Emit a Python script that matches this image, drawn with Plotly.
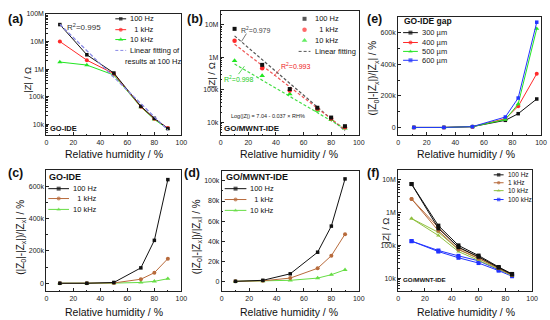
import plotly.graph_objects as go

W, H = 550, 320
FONT = "Liberation Sans, Arial, sans-serif"

# ---------------- data ----------------
RH = [10, 30, 50, 70, 80, 90]
a_100 = [4.1e7, 3.3e6, 7.2e5, 4.5e4, 1.65e4, 7.0e3]
a_1k = [1.0e7, 2.1e6, 6.8e5, 4.3e4, 1.6e4, 7.3e3]
a_10k = [1.8e6, 1.4e6, 6.1e5, 4.2e4, 1.5e4, 6.8e3]
a_fit_x = [10, 90]
a_fit = [4.2e7, 6.2e3]

b_100 = [7.4e6, 5.8e5, 1.05e5, 2.8e4, 1.4e4, 7.6e3]
b_1k = [3.2e6, 4.6e5, 9.4e4, 2.6e4, 1.3e4, 7.0e3]
b_10k = [7.8e5, 2.7e5, 7.4e4, 2.3e4, 1.2e4, 6.6e3]
b_fit_x = [10, 90]
b_fit_100 = [4.5e6, 5.5e3]
b_fit_1k = [2.5e6, 6.0e3]
b_fit_10k = [6.2e5, 6.3e3]

c_100 = [0, 0, 5e3, 9.5e4, 2.65e5, 6.4e5]
c_1k = [0, 0, 2e3, 2.5e4, 6.5e4, 1.52e5]
c_10k = [0, 0, 1e3, 5e3, 1.2e4, 2.8e4]

d_100 = [0, 1.0e3, 7.5e3, 2.9e4, 5.5e4, 1.02e5]
d_1k = [0, 5e2, 3.2e3, 1.3e4, 2.55e4, 4.7e4]
d_10k = [0, 2e2, 1.0e3, 3.2e3, 6.6e3, 1.15e4]

RH_e = [11, 32, 52, 75, 84, 97]
e_300 = [0, 0, 5e3, 4.5e4, 8.7e4, 1.8e5]
e_400 = [0, 0, 5e3, 5.5e4, 1.34e5, 3.4e5]
e_500 = [0, 0, 5e3, 5.0e4, 1.48e5, 6.25e5]
e_600 = [0, 0, 5e3, 6.6e4, 1.86e5, 6.66e5]

RH_f = [10, 30, 45, 60, 75, 85]
f_100a = [7.4e6, 4.0e5, 1.0e5, 4.9e4, 2.2e4, 1.35e4]
f_100b = [7.4e6, 3.3e5, 8.8e4, 4.5e4, 2.1e4, 1.3e4]
f_1ka = [2.6e6, 3.5e5, 8.5e4, 4.4e4, 2.1e4, 1.3e4]
f_1kb = [2.6e6, 2.8e5, 7.5e4, 4.0e4, 2.0e4, 1.25e4]
f_10ka = [6.6e5, 2.5e5, 7.5e4, 4.0e4, 2.0e4, 1.25e4]
f_10kb = [6.6e5, 2.0e5, 6.5e4, 3.6e4, 1.9e4, 1.2e4]
f_100ka = [1.35e5, 7.0e4, 4.8e4, 3.4e4, 1.8e4, 1.3e4]
f_100kb = [1.35e5, 6.5e4, 4.2e4, 2.9e4, 1.7e4, 1.15e4]

# ---------------- styles ----------------
BLACK = "#111111"
RED = "#ff2a2a"
GREEN = "#22e622"
LAV = "#8a8ae6"
BROWN = "#b86b3c"
LGREEN = "#66dd44"
YGREEN = "#90c040"
BLUE = "#2233ff"
AX = "#222222"

fig = go.Figure()


def px_x(x):
    return x / W


def px_y(y):
    return 1 - y / H


# panel boxes in pixels: (left, right, top, bottom)
boxes = {
    1: (45, 182, 10, 133),   # a
    2: (222, 362, 7, 133),   # b
    3: (402, 547, 13, 133),  # e
    4: (45, 182, 168, 291),  # c
    5: (223, 362, 169, 291),  # d
    6: (402, 538, 168, 291),  # f
}

layout_axes = {}


def make_axes(i, yrange, ylog=False, ydtick=None, ymin_dtick=None):
    l, r, t, b = boxes[i]
    xs = "xaxis" if i == 1 else f"xaxis{i}"
    ys = "yaxis" if i == 1 else f"yaxis{i}"
    xa = "x" if i == 1 else f"x{i}"
    ya = "y" if i == 1 else f"y{i}"
    layout_axes[xs] = dict(
        domain=[px_x(l), px_x(r)], anchor=ya, range=[0, 100], dtick=20, tick0=0,
        showline=True, linecolor=AX, linewidth=1, mirror=True,
        ticks="inside", ticklen=3, tickwidth=1, tickcolor=AX,
        tickfont=dict(size=7, color=AX, family=FONT), showgrid=False, zeroline=False,
        minor=dict(ticks="inside", ticklen=1.5, dtick=10, tickcolor=AX),
    )
    yd = dict(
        domain=[px_y(b), px_y(t)], anchor=xa, range=yrange,
        showline=True, linecolor=AX, linewidth=1, mirror=True,
        ticks="inside", ticklen=3, tickwidth=1, tickcolor=AX,
        tickfont=dict(size=7, color=AX, family=FONT), showgrid=False, zeroline=False,
        tickformat="~s",
    )
    if ylog:
        yd.update(type="log", dtick=1,
                  minor=dict(ticks="inside", ticklen=1.5, tickcolor=AX))
    else:
        yd.update(dtick=ydtick, tick0=0,
                  minor=dict(ticks="inside", ticklen=1.5, dtick=ymin_dtick, tickcolor=AX))
    layout_axes[ys] = yd
    return xa, ya


def line(xa, ya, x, y, color, symbol, size=4, width=1, mode="lines+markers", dash="solid"):
    fig.add_trace(go.Scatter(
        x=x, y=y, xaxis=xa, yaxis=ya, mode=mode, showlegend=False,
        line=dict(color=color, width=width, dash=dash),
        marker=dict(color=color, symbol=symbol, size=size, line=dict(width=0)),
        cliponaxis=False,
    ))


# (a)
xa, ya = make_axes(1, [3.6, 8.0], ylog=True)
line(xa, ya, RH, a_10k, GREEN, "triangle-up", 4.5)
line(xa, ya, RH, a_1k, RED, "circle", 4)
line(xa, ya, RH, a_100, BLACK, "square", 3.5)
line(xa, ya, a_fit_x, a_fit, LAV, "circle", mode="lines", dash="4px,2px", width=1.3)

# (b)
xa, ya = make_axes(2, [3.6, 7.42], ylog=True)
line(xa, ya, b_fit_x, b_fit_100, "#555555", "circle", mode="lines", dash="3px,2px", width=1.2)
line(xa, ya, b_fit_x, b_fit_1k, "#ee5555", "circle", mode="lines", dash="3px,2px", width=1.2)
line(xa, ya, b_fit_x, b_fit_10k, "#44dd44", "circle", mode="lines", dash="3px,2px", width=1.2)
line(xa, ya, RH, b_10k, GREEN, "triangle-up", 5, mode="markers")
line(xa, ya, RH, b_1k, RED, "circle", 4.5, mode="markers")
line(xa, ya, RH, b_100, BLACK, "square", 4, mode="markers")

# (e)
xa, ya = make_axes(3, [-50000, 700000], ydtick=200000, ymin_dtick=100000)
line(xa, ya, RH_e, e_300, BLACK, "square", 3.5)
line(xa, ya, RH_e, e_400, RED, "circle", 4)
line(xa, ya, RH_e, e_500, GREEN, "triangle-up", 4.5)
line(xa, ya, RH_e, e_600, BLUE, "square", 3.5)

# (c)
xa, ya = make_axes(4, [-50000, 700000], ydtick=200000, ymin_dtick=100000)
line(xa, ya, RH, c_10k, LGREEN, "triangle-up", 4.5)
line(xa, ya, RH, c_1k, BROWN, "circle", 4)
line(xa, ya, RH, c_100, BLACK, "square", 3.5)

# (d)
xa, ya = make_axes(5, [-10000, 110000], ydtick=20000, ymin_dtick=10000)
line(xa, ya, RH, d_10k, LGREEN, "triangle-up", 4.5)
line(xa, ya, RH, d_1k, BROWN, "circle", 4)
line(xa, ya, RH, d_100, BLACK, "square", 3.5)

# (f)
xa, ya = make_axes(6, [3.6, 7.3], ylog=True)
for ser, col, sym in [(f_100ka, BLUE, "square"), (f_100kb, BLUE, "square"),
                      (f_10ka, YGREEN, "triangle-up"), (f_10kb, YGREEN, "triangle-up"),
                      (f_1ka, BROWN, "circle"), (f_1kb, BROWN, "circle"),
                      (f_100a, BLACK, "square"), (f_100b, BLACK, "square")]:
    line(xa, ya, RH_f, ser, col, sym, 4)

# ---------------- decorations (legends, labels) ----------------
shapes = []
annots = []
kx, ky, kc, ks, kz = [], [], [], [], []


def key(x0, x1, y, color, symbol=None, dash="solid", size=4, draw_line=True):
    if draw_line:
        shapes.append(dict(type="line", xref="paper", yref="paper",
                           x0=px_x(x0), x1=px_x(x1), y0=px_y(y), y1=px_y(y),
                           line=dict(color=color, width=1, dash=dash)))
    if symbol:
        kx.append((x0 + x1) / 2)
        ky.append(y)
        kc.append(color)
        ks.append(symbol)
        kz.append(size)


def text(x, y, s, size, color=BLACK, bold=False, xanchor="left", angle=0):
    if bold:
        s = f"<b>{s}</b>"
    annots.append(dict(x=px_x(x), y=px_y(y), xref="paper", yref="paper", text=s,
                       showarrow=False, xanchor=xanchor, yanchor="middle",
                       textangle=angle, font=dict(size=size, color=color, family=FONT)))


def seg(x0, y0, x1, y1, color, width=0.8):
    shapes.append(dict(type="line", xref="paper", yref="paper",
                       x0=px_x(x0), x1=px_x(x1), y0=px_y(y0), y1=px_y(y1),
                       line=dict(color=color, width=width)))


# panel letters
for lab, x, y in [("(a)", 4, 15), ("(b)", 186, 15), ("(e)", 368, 15),
                  ("(c)", 4, 171), ("(d)", 183, 171), ("(f)", 368, 171)]:
    text(x, y, lab, 12.5, bold=True)

# axis titles
ZT = "|Z| / Ω"
DT = "(|Z<sub>0</sub>|-|Z<sub>x</sub>|)/|Z<sub>x</sub>| / %"
XT = "Relative humidity / %"
text(25, 77, ZT, 9.5, xanchor="center", angle=-90)
text(212, 72, ZT, 9.5, xanchor="center", angle=-90)
text(377, 75, DT, 10, xanchor="center", angle=-90)
text(19, 236, DT, 10, xanchor="center", angle=-90)
text(198, 236, DT, 10, xanchor="center", angle=-90)
text(389, 229, ZT, 9.5, xanchor="center", angle=-90)
for cx, cy in [(114, 152), (291, 152), (471, 152), (114, 312), (291, 312), (471, 312)]:
    text(cx, cy, XT, 10.5, xanchor="center")

# (a) legend and labels
key(115, 126, 15, BLACK, "square", size=3.5)
text(128, 15, "100 Hz", 7.5)
key(115, 126, 26, RED, "circle", size=4)
text(128, 26, "  1 kHz", 7.5)
key(115, 126, 36, GREEN, "triangle-up", size=4.5)
text(128, 36, "10 kHz", 7.5)
key(115, 126, 47, LAV, dash="3px,2px")
text(128, 47, "Linear fitting of", 7.5)
text(123, 58, "results at 100 Hz", 7.5)
text(64, 23, "R<sup>2</sup>=0.995", 8, color="#333333")
text(47, 126, "GO-IDE", 7.5, bold=True)

# (b) legend and labels
key(303, 311, 15, BLACK, "square", size=4, draw_line=False)
text(316, 15, "100 Hz", 7.5)
key(303, 311, 26, RED, "circle", size=4.5, draw_line=False)
text(316, 26, "  1 kHz", 7.5)
key(303, 311, 37, GREEN, "triangle-up", size=5, draw_line=False)
text(316, 37, "10 kHz", 7.5)
key(301, 313, 48, "#555555", dash="3px,2px")
text(316, 48, "Linear fitting", 7.5)
text(241, 26, "R<sup>2</sup>=0.979", 7, color="#444444")
seg(248, 30, 243, 38, "#555555")
text(281, 63, "R<sup>2</sup>=0.993", 7, color="#ee2222")
seg(282, 66, 276, 73, "#ee4444")
text(223, 76, "R<sup>2</sup>=0.998", 7, color="#22cc22")
seg(240, 71, 246, 63, "#33cc33")
text(230, 113, "Log(|Z|) = 7.04 - 0.037 × RH%", 5.5, color="#222222")
text(223, 126, "GO/MWNT-IDE", 8, bold=True)

# (e) legend
text(406, 17, "GO-IDE gap", 8.5, bold=True)
for y, col, sym, lab in [(29, BLACK, "square", "300 µm"), (39, RED, "circle", "400 µm"),
                         (48, GREEN, "triangle-up", "500 µm"), (57, BLUE, "square", "600 µm")]:
    key(407, 422, y, col, sym, size=4)
    text(424, y, lab, 7.5, color="#222222")

# (c) legend
text(46, 175, "GO-IDE", 9, bold=True)
for y, col, sym, lab in [(187, BLACK, "square", "100 Hz"), (197, BROWN, "circle", "  1 kHz"),
                         (208, LGREEN, "triangle-up", "10 kHz")]:
    key(47, 68, y, col, sym, size=4)
    text(70, y, lab, 7.5)

# (d) legend
text(225, 175, "GO/MWNT-IDE", 9, bold=True)
for y, col, sym, lab in [(187, BLACK, "square", "100 Hz"), (198, BROWN, "circle", "  1 kHz"),
                         (209, LGREEN, "triangle-up", "10 kHz")]:
    key(226, 248, y, col, sym, size=4)
    text(250, y, lab, 7.5)

# (f) legend
for y, col, sym, lab in [(173, BLACK, "square", "100 Hz"), (181, BROWN, "circle", "1 kHz"),
                         (189, YGREEN, "triangle-up", "10 kHz"), (198, BLUE, "square", "100 kHz")]:
    key(499, 509, y, col, sym, size=3.5)
    text(511, y, lab, 6.5)
text(405, 279, "GO/MWNT-IDE", 6.2, bold=True)

# legend key markers on an invisible full-page overlay axis (pixel coordinates)
fig.add_trace(go.Scatter(x=kx, y=ky, xaxis="x7", yaxis="y7", mode="markers", showlegend=False,
                         marker=dict(color=kc, symbol=ks, size=kz, line=dict(width=0)),
                         cliponaxis=False))
layout_axes["xaxis7"] = dict(domain=[0, 1], range=[0, W], visible=False, anchor="y7", fixedrange=True)
layout_axes["yaxis7"] = dict(domain=[0, 1], range=[H, 0], visible=False, anchor="x7", fixedrange=True)

fig.update_layout(
    width=W, height=H, autosize=False,
    margin=dict(l=0, r=0, t=0, b=0),
    paper_bgcolor="white", plot_bgcolor="rgba(0,0,0,0)",
    font=dict(family=FONT, color=BLACK),
    showlegend=False,
    shapes=shapes, annotations=annots,
    **layout_axes,
)

fig.write_html(
    "out.html",
    config={"displayModeBar": False},
    post_script="document.body.style.margin='0';document.body.style.overflow='hidden';",
)
